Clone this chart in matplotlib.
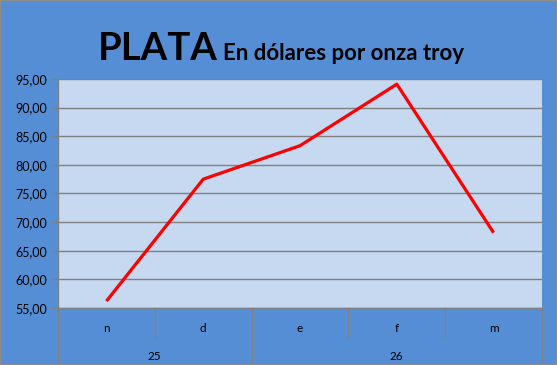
import matplotlib.pyplot as plt
import matplotlib.transforms as mtransforms
from matplotlib.patches import Rectangle

# data
months = ['n', 'd', 'e', 'f', 'm']
years = ['25', '26']
year_spans = [(0, 1), (2, 4)]  # month index ranges for each year
precio = [56.2, 77.5, 83.35, 94.1, 68.15]
yticks = [55, 60, 65, 70, 75, 80, 85, 90, 95]

W, H = 557, 365
bg = '#558ED5'
plot_bg = '#C6D9F0'
grid_c = '#808080'
font = ['Lato', 'DejaVu Sans']

fig = plt.figure(figsize=(W / 100, H / 100), dpi=100, facecolor=bg)
fig.patches.append(Rectangle((0, 0), 1, 1, transform=fig.transFigure,
                             fill=False, edgecolor='#8C8C8C', lw=1.5))

ax = fig.add_axes([58 / W, (H - 308) / H, 484 / W, 229 / H], facecolor=plot_bg)
x = list(range(len(months)))
ax.plot(x, precio, color='#FF0000', lw=2.3, solid_capstyle='butt', zorder=3)

ax.set_xlim(-0.5, len(months) - 0.5)
ax.set_ylim(55, 95)
ax.set_yticks(yticks)
ax.set_yticklabels([f'{v:.2f}'.replace('.', ',') for v in yticks],
                   fontsize=9, family=font, color='black')
ax.tick_params(axis='y', length=4, width=1, color=grid_c, pad=4)
ax.set_xticks([])
ax.yaxis.grid(True, color=grid_c, lw=1)
ax.set_axisbelow(True)
for s in ['top', 'right']:
    ax.spines[s].set_visible(False)
for s in ['left', 'bottom']:
    ax.spines[s].set_color(grid_c)
    ax.spines[s].set_linewidth(1)

# category axis below the plot: months row, years row
tr = mtransforms.blended_transform_factory(ax.transData, ax.transAxes)
row1 = -29 / 229
row2 = -54 / 229
for i in range(len(months) + 1):
    xb = i - 0.5
    bottom = row2 if i in (0, 2, len(months)) else row1
    ax.plot([xb, xb], [0, bottom], color=grid_c, lw=1, transform=tr, clip_on=False)
for i, m in enumerate(months):
    ax.text(i, -20 / 229, m, transform=tr, ha='center', va='center',
            fontsize=8.5, family=font)
for yr, (a, b) in zip(years, year_spans):
    ax.text((a + b) / 2, -48 / 229, yr, transform=tr, ha='center', va='center',
            fontsize=8.5, family=font)

# title
fig.text(98 / W, (H - 60) / H, 'PLATA', fontsize=27.5, fontweight='bold',
         family=font, va='baseline', ha='left')
fig.text(223 / W, (H - 60) / H, 'En dólares por onza troy', fontsize=16,
         fontweight='bold', family=font, va='baseline', ha='left')

fig.savefig('out.png', dpi=100, facecolor=bg)
